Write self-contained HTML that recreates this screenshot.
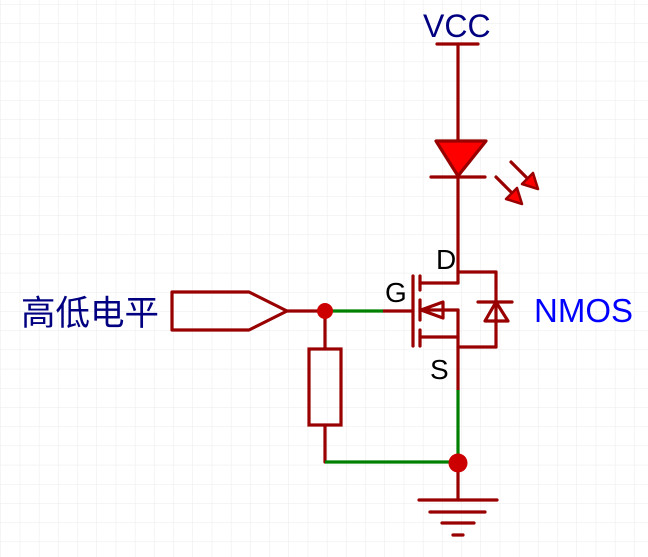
<!DOCTYPE html>
<html><head><meta charset="utf-8"><style>
html,body{margin:0;padding:0;background:#fff;}
svg{display:block;}
</style></head><body>
<svg width="648" height="557" viewBox="0 0 648 557" xmlns="http://www.w3.org/2000/svg">
<defs>
<pattern id="g" x="0.5" y="4" width="19.2" height="19.2" patternUnits="userSpaceOnUse">
<path d="M0 0H19.2M0 0V19.2" stroke="#ebebeb" stroke-width="1" fill="none"/>
</pattern>
</defs>
<rect width="648" height="557" fill="url(#g)"/>
<g stroke="#990000" stroke-width="3.2" fill="none" stroke-linecap="round">
<line x1="437" y1="44" x2="478" y2="44"/>
<line x1="458" y1="44" x2="458" y2="140"/>
<polygon points="436,141 486,141 458,176" fill="#ff0000" stroke-linejoin="round"/>
<line x1="431" y1="177" x2="485" y2="177"/>
<line x1="458" y1="177" x2="458" y2="283"/>
<line x1="511" y1="162" x2="528" y2="179"/>
<line x1="496" y1="177" x2="512" y2="193"/>
<line x1="458" y1="272" x2="496" y2="272"/>
<line x1="496" y1="272" x2="496" y2="347"/>
<line x1="458" y1="347" x2="496" y2="347"/>
<line x1="478" y1="302" x2="512" y2="302"/>
<polygon points="496,302 485,321 508,321" stroke-linejoin="round"/>
<line x1="413" y1="276" x2="413" y2="346"/>
<line x1="420" y1="276" x2="420" y2="290"/>
<line x1="420" y1="300" x2="420" y2="320"/>
<line x1="420" y1="330" x2="420" y2="346"/>
<line x1="420" y1="283" x2="458" y2="283"/>
<line x1="420" y1="310" x2="458" y2="310"/>
<line x1="458" y1="310" x2="458" y2="390"/>
<line x1="420" y1="337" x2="458" y2="337"/>
<polygon points="421,310 443,302 443,318" stroke-linejoin="round"/>
<line x1="383" y1="311" x2="413" y2="311"/>
<polygon points="172,292 249,292 287,311 249,330 172,330" stroke-linejoin="round"/>
<line x1="287" y1="311" x2="325" y2="311"/>
<line x1="325" y1="311" x2="325" y2="349"/>
<rect x="309" y="349" width="32" height="76"/>
<line x1="325" y1="425" x2="325" y2="462"/>
<line x1="458" y1="463" x2="458" y2="500"/>
<line x1="419" y1="500" x2="497" y2="500"/>
<line x1="430" y1="512" x2="485" y2="512"/>
<line x1="442" y1="523" x2="474" y2="523"/>
<line x1="453" y1="535" x2="463" y2="535"/>
</g>
<g fill="#ff0000" stroke="#990000" stroke-width="2.5" stroke-linejoin="round">
<polygon points="538,189 522,184 533,173"/>
<polygon points="522,204 506,199 517,188"/>
</g>
<g stroke="#008000" stroke-width="3.2" fill="none">
<line x1="325" y1="311" x2="383" y2="311"/>
<line x1="458" y1="390" x2="458" y2="463"/>
<line x1="325" y1="462" x2="458" y2="462"/>
</g>
<circle cx="325" cy="311" r="8" fill="#cc0000"/>
<circle cx="458" cy="463" r="9.5" fill="#cc0000"/>
<g font-family="Liberation Sans, sans-serif">
<text x="423" y="37" font-size="32" fill="#000080">VCC</text>
<text x="436" y="269" font-size="28" fill="#000">D</text>
<text x="385" y="302" font-size="28" fill="#000">G</text>
<text x="430" y="379" font-size="28" fill="#000">S</text>
<text x="534" y="322" font-size="33" fill="#0000ff">NMOS</text>
<text x="21" y="325" font-size="34.5" fill="#000080" font-family="Liberation Sans, Noto Sans CJK SC, sans-serif">高低电平</text>
</g>
</svg>
</body></html>
